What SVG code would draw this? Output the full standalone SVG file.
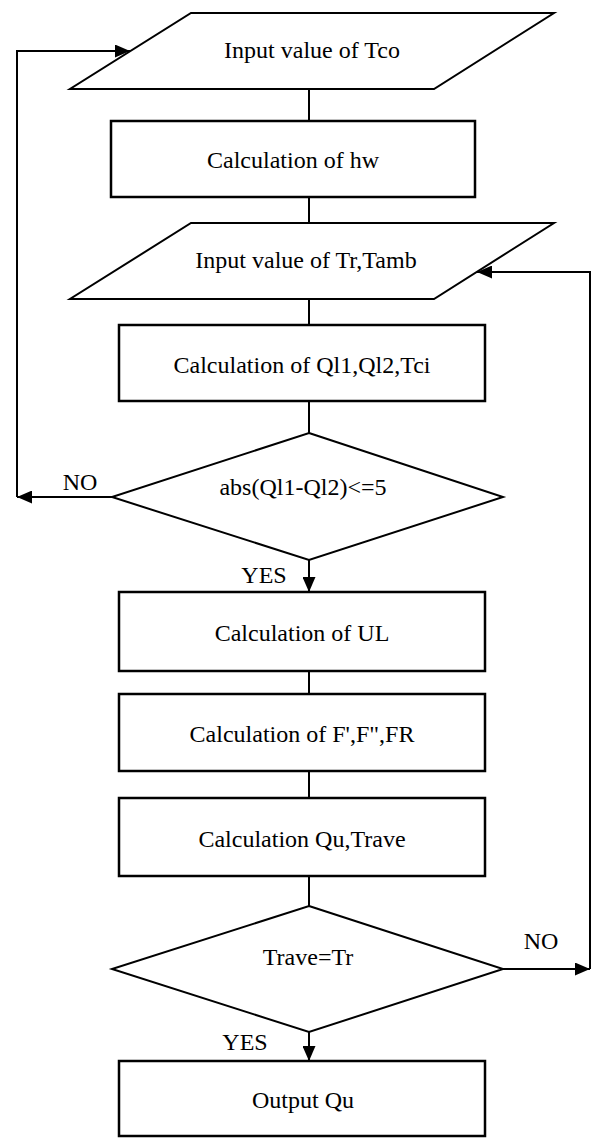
<svg xmlns="http://www.w3.org/2000/svg" width="592" height="1138" viewBox="0 0 592 1138" font-family="'Liberation Serif', 'Times New Roman', 'DejaVu Serif', serif">
<style>
  .shape { fill: #ffffff; stroke: #000000; stroke-width: 2; }
  .box { fill: #ffffff; stroke: #000000; stroke-width: 2.5; }
  .conn { fill: none; stroke: #000000; stroke-width: 2; }
  text { font-family: 'Liberation Serif', 'Times New Roman', 'DejaVu Serif', serif; font-size: 24px; fill: #000000; text-anchor: middle; }
</style>
<defs>
  <marker id="arrow" viewBox="0 0 15 13" markerWidth="15" markerHeight="13" refX="15" refY="6.5" orient="auto" markerUnits="userSpaceOnUse">
    <path d="M0,0 L15,6.5 L0,13 z" fill="#000000"/>
  </marker>
</defs>
<rect width="592" height="1138" fill="#ffffff"/>
<g id="connectors">
  <path class="conn" d="M309,89 L309,121"/>
  <path class="conn" d="M309,197 L309,223"/>
  <path class="conn" d="M309,299 L309,325"/>
  <path class="conn" d="M309,401 L309,433"/>
  <path class="conn" d="M112,497 L17,497" marker-end="url(#arrow)"/>
  <path class="conn" d="M17,497 L17,51 L130,51" marker-end="url(#arrow)"/>
  <path class="conn" d="M309,560 L309,592" marker-end="url(#arrow)"/>
  <path class="conn" d="M309,671 L309,694"/>
  <path class="conn" d="M309,771 L309,798"/>
  <path class="conn" d="M309,876 L309,906"/>
  <path class="conn" d="M503,969 L590,969" marker-end="url(#arrow)"/>
  <path class="conn" d="M590,969 L590,272 L477,272" marker-end="url(#arrow)"/>
  <path class="conn" d="M309,1032 L309,1061" marker-end="url(#arrow)"/>
  <text x="80" y="490">NO</text>
  <text x="264" y="583">YES</text>
  <text x="541" y="949">NO</text>
  <text x="245" y="1050">YES</text>
</g>
<g id="input-tco">
  <polygon class="shape" points="191,13 554,13 434,89 70,89"/>
  <text x="312" y="58">Input value of Tco</text>
</g>
<g id="calc-hw">
  <rect class="box" x="111" y="121" width="364" height="76"/>
  <text x="293" y="168">Calculation of hw</text>
</g>
<g id="input-tr-tamb">
  <polygon class="shape" points="191,223 554,223 434,299 70,299"/>
  <text x="306" y="268">Input value of Tr,Tamb</text>
</g>
<g id="calc-ql">
  <rect class="box" x="119" y="325" width="366" height="76"/>
  <text x="302" y="373">Calculation of Ql1,Ql2,Tci</text>
</g>
<g id="decision-abs">
  <polygon class="shape" points="309,433 503,497 309,560 112,497"/>
  <text x="303" y="495">abs(Ql1-Ql2)&lt;=5</text>
</g>
<g id="calc-ul">
  <rect class="box" x="119" y="592" width="366" height="79"/>
  <text x="302" y="641">Calculation of UL</text>
</g>
<g id="calc-f">
  <rect class="box" x="119" y="694" width="366" height="77"/>
  <text x="302" y="742">Calculation of F',F",FR</text>
</g>
<g id="calc-qu">
  <rect class="box" x="119" y="798" width="366" height="78"/>
  <text x="302" y="847">Calculation Qu,Trave</text>
</g>
<g id="decision-trave">
  <polygon class="shape" points="309,906 503,969 309,1032 112,969"/>
  <text x="308" y="965">Trave=Tr</text>
</g>
<g id="output-qu">
  <rect class="box" x="119" y="1061" width="366" height="75"/>
  <text x="303" y="1108">Output Qu</text>
</g>
</svg>
